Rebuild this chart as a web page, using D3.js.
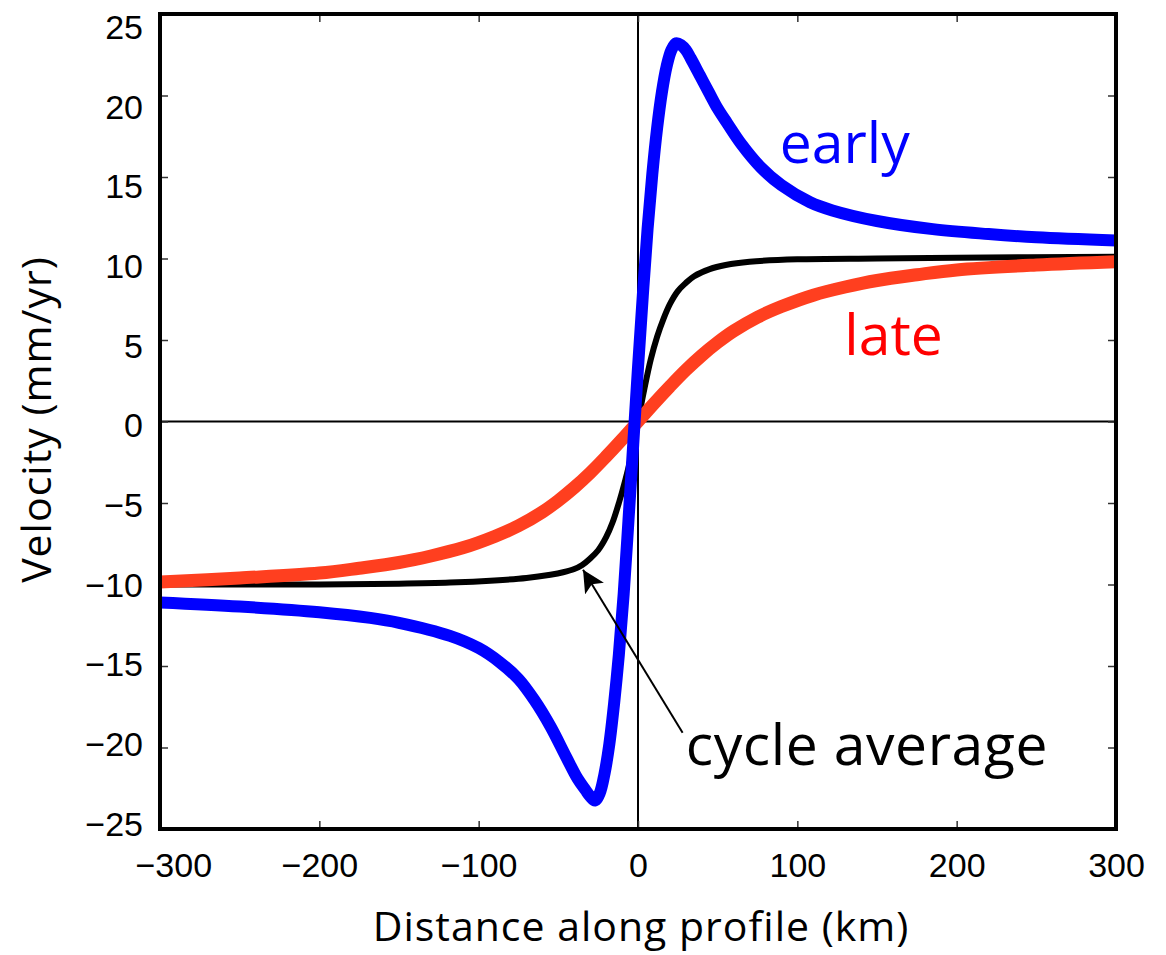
<!DOCTYPE html>
<html>
<head>
<meta charset="utf-8">
<script src="https://cdn.jsdelivr.net/npm/d3@7"></script>
<style>
  body { margin: 0; background: #fff; }
  .tick text { font-family: "Liberation Sans", Arial, sans-serif; font-size: 34px; fill: #000; }
  .lbl { font-family: "Open Sans", sans-serif; }
</style>
</head>
<body>
<svg class="chart"></svg>
<script>
// early (blue) curve
var earlyX = [-300, -250, -200, -168, -150, -118, -100, -87, -75, -65, -55, -45, -38, -33, -30, -27, -24, -21, -18, -15, -12, -9, -6, -3, 0, 3, 6, 9, 12, 15, 18, 21, 24, 27, 30, 33, 39, 45, 50, 56, 65, 77, 90, 108, 122, 150, 185, 220, 250, 300];
var earlyV = [-11.1, -11.35, -11.7, -12.05, -12.35, -13.15, -13.9, -14.75, -15.8, -17.1, -18.7, -20.6, -21.9, -22.6, -23.0, -23.25, -22.8, -21.6, -19.8, -17.3, -14.3, -10.6, -6.1, -1.4, 3.3, 7.7, 11.8, 15.2, 18.0, 20.2, 21.8, 22.8, 23.2, 23.1, 22.8, 22.3, 21.2, 20.1, 19.2, 18.3, 17.0, 15.6, 14.5, 13.45, 12.95, 12.3, 11.8, 11.5, 11.3, 11.1];

// late (red) curve
var lateX = [-300, -250, -200, -175, -150, -130, -110, -90, -75, -60, -50, -40, -30, -20, -10, 0, 10, 20, 30, 40, 50, 60, 75, 90, 110, 130, 150, 175, 200, 250, 300];
var lateV = [-9.85, -9.6, -9.3, -9.0, -8.65, -8.25, -7.75, -7.05, -6.4, -5.55, -4.85, -4.05, -3.15, -2.15, -1.1, 0, 1.1, 2.15, 3.15, 4.05, 4.85, 5.55, 6.4, 7.05, 7.75, 8.25, 8.65, 9.0, 9.3, 9.6, 9.8];

// cycle average (black)
var avgX = [-300, -200, -150, -118, -90, -70, -55, -47, -40, -35, -30, -25, -20, -16, -12, -8, -4, 0, 4, 8, 12, 16, 20, 25, 30, 35, 45, 55, 70, 100, 150, 200, 300];
var avgV = [-10.0, -10.0, -9.95, -9.88, -9.75, -9.6, -9.4, -9.25, -9.05, -8.8, -8.4, -7.9, -7.1, -6.2, -5.0, -3.6, -2.0, 0, 2.0, 3.8, 5.2, 6.3, 7.2, 8.0, 8.5, 8.9, 9.35, 9.6, 9.8, 9.95, 10.0, 10.05, 10.1];

var xTicks = [-300, -200, -100, 0, 100, 200, 300];
var yTicks = [-25, -20, -15, -10, -5, 0, 5, 10, 15, 20, 25];

var margin = {top: 14, right: 50, bottom: 126, left: 160};
var width = 956, height = 815;

var x = d3.scaleLinear().domain([-300, 300]).range([0, width]);
var y = d3.scaleLinear().domain([-25, 25]).range([height, 0]);
// the printed y labels sit on a slightly tighter spacing than the ticks
var yLab = d3.scaleLinear().domain([-25, 25]).range([810.5, 13.5]);

var svg = d3.select(".chart")
    .attr("width", 1166)
    .attr("height", 955);

var chart = svg.append("g")
    .attr("transform", "translate(" + margin.left + "," + margin.top + ")");

chart.append("defs").append("clipPath").attr("id", "clip")
  .append("rect").attr("width", width).attr("height", height);

chart.select("defs").append("marker")
    .attr("id", "head")
    .attr("markerUnits", "userSpaceOnUse")
    .attr("markerWidth", 26).attr("markerHeight", 26)
    .attr("refX", 22).attr("refY", 11)
    .attr("orient", "auto")
  .append("path")
    .attr("d", "M0,0 L22,11 L0,22 L5,11 Z")
    .attr("fill", "#000");

// zero lines
chart.append("line")
    .attr("x1", 0).attr("x2", width)
    .attr("y1", y(0)).attr("y2", y(0))
    .attr("stroke", "#000").attr("stroke-width", 2);
chart.append("line")
    .attr("x1", x(0)).attr("x2", x(0))
    .attr("y1", 0).attr("y2", height)
    .attr("stroke", "#000").attr("stroke-width", 2);

function customAxis(g) {
    g.select(".domain").remove();
    g.selectAll(".tick line").attr("stroke", "#333").attr("stroke-width", 1.5);
}

// bottom / left axes with labels, ticks pointing inward
chart.append("g")
    .attr("transform", "translate(0," + height + ")")
    .call(d3.axisBottom(x).tickValues(xTicks).tickSize(-8).tickPadding(24))
    .call(customAxis)
    .selectAll(".tick text")
    .filter(function(d) { return d === -300; })
    .attr("text-anchor", "start").attr("x", -25);

chart.append("g")
    .call(d3.axisLeft(y).tickValues(yTicks).tickSize(-8).tickPadding(17))
    .call(customAxis)
    .selectAll(".tick text")
    .attr("y", function(d) { return yLab(d) - y(d); });

// top / right ticks only
chart.append("g")
    .call(d3.axisTop(x).tickValues(xTicks).tickSize(-8).tickFormat(""))
    .call(customAxis);
chart.append("g")
    .attr("transform", "translate(" + width + ",0)")
    .call(d3.axisRight(y).tickValues(yTicks).tickSize(-8).tickFormat(""))
    .call(customAxis);

var line = d3.line()
    .x(function(d) { return x(d[0]); })
    .y(function(d) { return y(d[1]); })
    .curve(d3.curveCatmullRom.alpha(0.5));

var series = [
    {xs: avgX, vs: avgV, color: "#000", w: 6},
    {xs: lateX, vs: lateV, color: "#ff3f1f", w: 13},
    {xs: earlyX, vs: earlyV, color: "#0000ff", w: 12}
];

var plot = chart.append("g").attr("clip-path", "url(#clip)");
series.forEach(function(s) {
    plot.append("path")
        .datum(d3.zip(s.xs, s.vs))
        .attr("fill", "none")
        .attr("stroke", s.color)
        .attr("stroke-width", s.w)
        .attr("stroke-linejoin", "round")
        .attr("d", line);
});

// arrow pointing at the cycle average curve
chart.append("line")
    .attr("x1", x(28)).attr("y1", y(-19.1))
    .attr("x2", x(-34.5)).attr("y2", y(-9.1))
    .attr("stroke", "#000").attr("stroke-width", 2)
    .attr("marker-end", "url(#head)");

// curve labels
chart.append("text").attr("class", "lbl")
    .attr("x", x(89)).attr("y", y(15.85))
    .attr("font-size", 57).attr("fill", "#0000ff")
    .text("early");
chart.append("text").attr("class", "lbl")
    .attr("x", x(129.5)).attr("y", y(4.1))
    .attr("font-size", 57).attr("fill", "#ff0000")
    .text("late");
chart.append("text").attr("class", "lbl")
    .attr("x", x(30)).attr("y", y(-21.05))
    .attr("font-size", 57).attr("letter-spacing", 0.6).attr("fill", "#000")
    .text("cycle average");

// frame
chart.append("rect")
    .attr("width", width).attr("height", height)
    .attr("fill", "none").attr("stroke", "#000").attr("stroke-width", 4);

// axis titles
svg.append("text").attr("class", "lbl")
    .attr("x", margin.left + width / 2 + 3).attr("y", 941)
    .attr("text-anchor", "middle").attr("font-size", 41).attr("letter-spacing", 1)
    .text("Distance along profile (km)");
svg.append("text").attr("class", "lbl")
    .attr("transform", "translate(51," + (margin.top + height / 2 - 2) + ") rotate(-90)")
    .attr("text-anchor", "middle").attr("font-size", 41).attr("letter-spacing", 1)
    .text("Velocity (mm/yr)");
</script>
</body>
</html>
